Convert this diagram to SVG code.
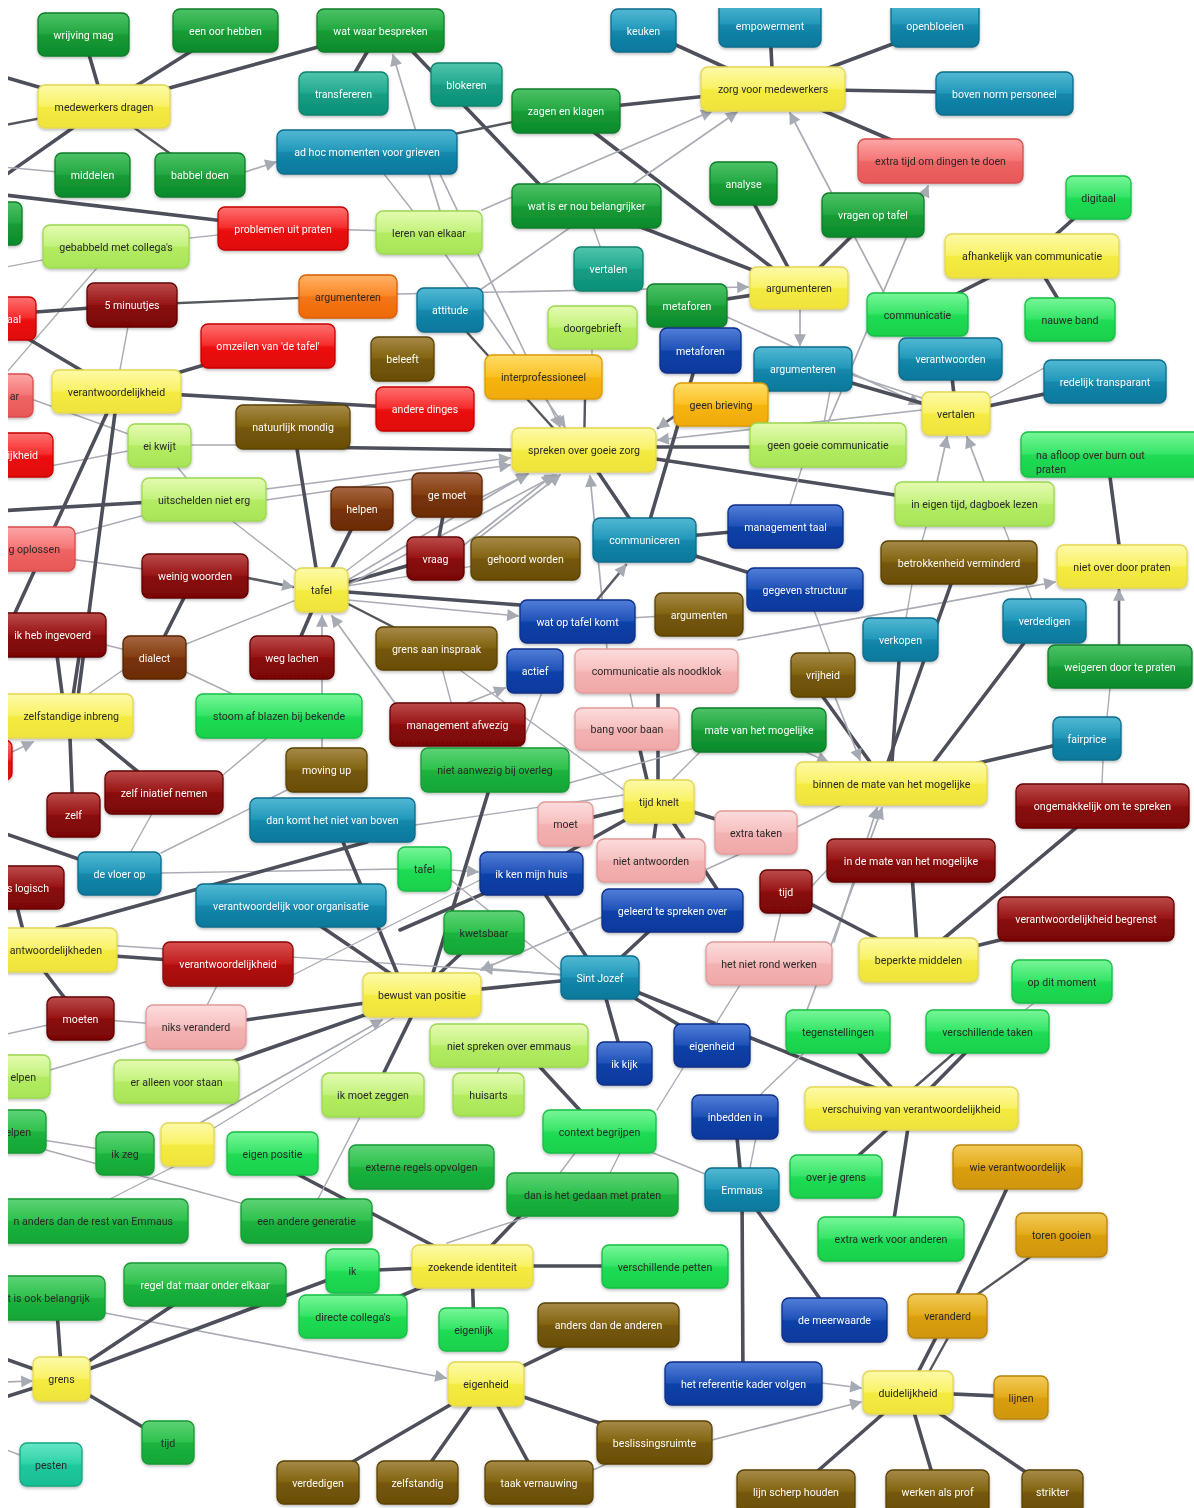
<svg xmlns="http://www.w3.org/2000/svg" width="1194" height="1508" viewBox="0 0 1194 1508">
<style>
text{font-family:Roboto,"Liberation Sans",sans-serif;font-size:10.6px;text-anchor:middle}
text.e{text-anchor:end}
text.w{fill:#fbfbfb}
text.k{fill:#2a2a2a}
.nd{filter:url(#sh)}
.nd rect{rx:7px;ry:7px;stroke-width:1.3}
.yel{fill:url(#Gyel);stroke:#e3d752}
.dg{fill:url(#Gdg);stroke:#0d7d28}
.bg{fill:url(#Gbg);stroke:#16bf44}
.mg{fill:url(#Gmg);stroke:#139a32}
.lime{fill:url(#Glime);stroke:#9cd850}
.tb{fill:url(#Gtb);stroke:#0a6c8c}
.tg{fill:url(#Gtg);stroke:#0c826c}
.db{fill:url(#Gdb);stroke:#0a2e88}
.red{fill:url(#Gred);stroke:#c80000}
.cr{fill:url(#Gcr);stroke:#8c0808}
.sal{fill:url(#Gsal);stroke:#d84c4c}
.dr{fill:url(#Gdr);stroke:#640404}
.or{fill:url(#Gor);stroke:#d85e08}
.og{fill:url(#Gog);stroke:#dc9c06}
.ol{fill:url(#Gol);stroke:#5a4204}
.br{fill:url(#Gbr);stroke:#5a2404}
.pk{fill:url(#Gpk);stroke:#e29a9a}
.gd{fill:url(#Ggd);stroke:#b8840a}
.cg{fill:url(#Gcg);stroke:#14a882}
#edges line{fill:none;stroke-linecap:round}
#edges .d{stroke:#4d4f5a;stroke-width:3.6}
#edges .m{stroke:#55575f;stroke-width:2.4}
#edges .g{stroke:#a9acb4;stroke-width:1.4}
#edges .a{stroke:#a9acb4;stroke-width:1.7;marker-end:url(#ah)}
#edges .am{stroke:#5a5c66;stroke-width:2.6;marker-end:url(#ah)}
</style>
<defs>
<filter id="sh" x="-10%" y="-20%" width="120%" height="150%"><feDropShadow dx="0" dy="1.5" stdDeviation="1.5" flood-color="#000" flood-opacity="0.28"/></filter>
<marker id="ah" viewBox="0 0 10 10" refX="9" refY="5" markerWidth="14" markerHeight="12" markerUnits="userSpaceOnUse" orient="auto"><path d="M0,0 L10,5 L0,10 z" fill="#a6aab3"/></marker>
<clipPath id="cl"><rect x="8" y="8" width="1186" height="1500"/></clipPath>
<linearGradient id="Gyel" x1="0" y1="0" x2="0" y2="1"><stop offset="0" stop-color="#fdfaa8"/><stop offset=".48" stop-color="#f9f266"/><stop offset=".52" stop-color="#f4eb40"/><stop offset="1" stop-color="#efe33c"/></linearGradient>
<linearGradient id="Gdg" x1="0" y1="0" x2="0" y2="1"><stop offset="0" stop-color="#4cc266"/><stop offset=".48" stop-color="#24a842"/><stop offset=".52" stop-color="#159b35"/><stop offset="1" stop-color="#0e8a2c"/></linearGradient>
<linearGradient id="Gbg" x1="0" y1="0" x2="0" y2="1"><stop offset="0" stop-color="#78f698"/><stop offset=".48" stop-color="#36e568"/><stop offset=".52" stop-color="#20dc54"/><stop offset="1" stop-color="#19d04b"/></linearGradient>
<linearGradient id="Gmg" x1="0" y1="0" x2="0" y2="1"><stop offset="0" stop-color="#5ed276"/><stop offset=".48" stop-color="#2ec24e"/><stop offset=".52" stop-color="#1bb33e"/><stop offset="1" stop-color="#15a636"/></linearGradient>
<linearGradient id="Glime" x1="0" y1="0" x2="0" y2="1"><stop offset="0" stop-color="#e4fbb0"/><stop offset=".48" stop-color="#c4f27e"/><stop offset=".52" stop-color="#b3ec62"/><stop offset="1" stop-color="#a8e458"/></linearGradient>
<linearGradient id="Gtb" x1="0" y1="0" x2="0" y2="1"><stop offset="0" stop-color="#52b8d4"/><stop offset=".48" stop-color="#2298ba"/><stop offset=".52" stop-color="#1387aa"/><stop offset="1" stop-color="#0c789c"/></linearGradient>
<linearGradient id="Gtg" x1="0" y1="0" x2="0" y2="1"><stop offset="0" stop-color="#50c4ac"/><stop offset=".48" stop-color="#22aa90"/><stop offset=".52" stop-color="#149d83"/><stop offset="1" stop-color="#0e9078"/></linearGradient>
<linearGradient id="Gdb" x1="0" y1="0" x2="0" y2="1"><stop offset="0" stop-color="#527ed8"/><stop offset=".48" stop-color="#2052b8"/><stop offset=".52" stop-color="#1142a8"/><stop offset="1" stop-color="#0c389c"/></linearGradient>
<linearGradient id="Gred" x1="0" y1="0" x2="0" y2="1"><stop offset="0" stop-color="#ff7070"/><stop offset=".48" stop-color="#f62c2c"/><stop offset=".52" stop-color="#ec1212"/><stop offset="1" stop-color="#e00a0a"/></linearGradient>
<linearGradient id="Gcr" x1="0" y1="0" x2="0" y2="1"><stop offset="0" stop-color="#d85050"/><stop offset=".48" stop-color="#c21e1e"/><stop offset=".52" stop-color="#b21111"/><stop offset="1" stop-color="#a00c0c"/></linearGradient>
<linearGradient id="Gsal" x1="0" y1="0" x2="0" y2="1"><stop offset="0" stop-color="#fca6a6"/><stop offset=".48" stop-color="#f57676"/><stop offset=".52" stop-color="#ee6464"/><stop offset="1" stop-color="#e85858"/></linearGradient>
<linearGradient id="Gdr" x1="0" y1="0" x2="0" y2="1"><stop offset="0" stop-color="#bc4a4a"/><stop offset=".48" stop-color="#981616"/><stop offset=".52" stop-color="#890909"/><stop offset="1" stop-color="#7a0606"/></linearGradient>
<linearGradient id="Gor" x1="0" y1="0" x2="0" y2="1"><stop offset="0" stop-color="#ffb468"/><stop offset=".48" stop-color="#fb8626"/><stop offset=".52" stop-color="#f47514"/><stop offset="1" stop-color="#ee6a0c"/></linearGradient>
<linearGradient id="Gog" x1="0" y1="0" x2="0" y2="1"><stop offset="0" stop-color="#ffdc68"/><stop offset=".48" stop-color="#fcc226"/><stop offset=".52" stop-color="#f6b510"/><stop offset="1" stop-color="#f0aa08"/></linearGradient>
<linearGradient id="Gol" x1="0" y1="0" x2="0" y2="1"><stop offset="0" stop-color="#a68a48"/><stop offset=".48" stop-color="#826410"/><stop offset=".52" stop-color="#755708"/><stop offset="1" stop-color="#6a4e06"/></linearGradient>
<linearGradient id="Gbr" x1="0" y1="0" x2="0" y2="1"><stop offset="0" stop-color="#a66642"/><stop offset=".48" stop-color="#843e10"/><stop offset=".52" stop-color="#773308"/><stop offset="1" stop-color="#6c2c06"/></linearGradient>
<linearGradient id="Gpk" x1="0" y1="0" x2="0" y2="1"><stop offset="0" stop-color="#fcdcdc"/><stop offset=".48" stop-color="#f7c0c0"/><stop offset=".52" stop-color="#f3b2b2"/><stop offset="1" stop-color="#f0a8a8"/></linearGradient>
<linearGradient id="Ggd" x1="0" y1="0" x2="0" y2="1"><stop offset="0" stop-color="#f2ca58"/><stop offset=".48" stop-color="#e4ac1c"/><stop offset=".52" stop-color="#da9f0c"/><stop offset="1" stop-color="#d09608"/></linearGradient>
<linearGradient id="Gcg" x1="0" y1="0" x2="0" y2="1"><stop offset="0" stop-color="#66e6c6"/><stop offset=".48" stop-color="#2ed2a8"/><stop offset=".52" stop-color="#1fc89c"/><stop offset="1" stop-color="#18be94"/></linearGradient>
</defs>
<rect x="0" y="0" width="1194" height="1508" fill="#fff"/>
<g clip-path="url(#cl)">
<g id="edges">
<line class="d" x1="83" y1="34" x2="104" y2="106"/>
<line class="d" x1="225" y1="30" x2="104" y2="106"/>
<line class="d" x1="380" y1="30" x2="104" y2="106"/>
<line class="d" x1="104" y1="106" x2="-20" y2="70"/>
<line class="m" x1="104" y1="106" x2="-20" y2="130"/>
<line class="d" x1="104" y1="106" x2="-20" y2="193"/>
<line class="m" x1="200" y1="175" x2="104" y2="106"/>
<line class="g" x1="92" y1="175" x2="-20" y2="165"/>
<line class="a" x1="245" y1="172" x2="276" y2="162"/>
<line class="d" x1="-20" y1="192" x2="283" y2="228"/>
<line class="g" x1="116" y1="246" x2="283" y2="228"/>
<line class="g" x1="116" y1="246" x2="-20" y2="272"/>
<line class="g" x1="116" y1="246" x2="-13" y2="395"/>
<line class="g" x1="283" y1="228" x2="429" y2="232"/>
<line class="g" x1="367" y1="152" x2="429" y2="232"/>
<line class="d" x1="132" y1="305" x2="-20" y2="316"/>
<line class="m" x1="132" y1="305" x2="348" y2="296"/>
<line class="g" x1="132" y1="305" x2="116" y2="391"/>
<line class="d" x1="10" y1="328" x2="116" y2="391"/>
<line class="d" x1="268" y1="346" x2="116" y2="391"/>
<line class="a" x1="397" y1="294" x2="748" y2="287"/>
<line class="d" x1="380" y1="30" x2="343" y2="93"/>
<line class="d" x1="392" y1="30" x2="560" y2="206"/>
<line class="a" x1="440" y1="211" x2="393" y2="55"/>
<line class="d" x1="566" y1="111" x2="773" y2="89"/>
<line class="m" x1="566" y1="111" x2="367" y2="152"/>
<line class="d" x1="566" y1="111" x2="799" y2="288"/>
<line class="d" x1="586" y1="206" x2="799" y2="288"/>
<line class="a" x1="482" y1="210" x2="712" y2="111"/>
<line class="a" x1="480" y1="290" x2="737" y2="112"/>
<line class="d" x1="643" y1="30" x2="773" y2="89"/>
<line class="d" x1="770" y1="28" x2="773" y2="89"/>
<line class="d" x1="935" y1="28" x2="773" y2="89"/>
<line class="d" x1="773" y1="89" x2="1004" y2="93"/>
<line class="d" x1="773" y1="89" x2="940" y2="161"/>
<line class="a" x1="884" y1="293" x2="790" y2="113"/>
<line class="a" x1="828" y1="423" x2="928" y2="186"/>
<line class="d" x1="873" y1="215" x2="799" y2="288"/>
<line class="d" x1="743" y1="183" x2="799" y2="288"/>
<line class="d" x1="687" y1="305" x2="799" y2="288"/>
<line class="a" x1="800" y1="309" x2="800" y2="345"/>
<line class="a" x1="727" y1="317" x2="920" y2="404"/>
<line class="d" x1="803" y1="369" x2="956" y2="413"/>
<line class="g" x1="852" y1="375" x2="922" y2="398"/>
<line class="d" x1="950" y1="359" x2="956" y2="413"/>
<line class="d" x1="1105" y1="381" x2="956" y2="413"/>
<line class="g" x1="1044" y1="368" x2="990" y2="398"/>
<line class="a" x1="922" y1="410" x2="658" y2="440"/>
<line class="am" x1="690" y1="405" x2="658" y2="428"/>
<line class="d" x1="700" y1="350" x2="644" y2="540"/>
<line class="g" x1="830" y1="391" x2="824" y2="423"/>
<line class="d" x1="1032" y1="256" x2="1098" y2="197"/>
<line class="d" x1="1032" y1="256" x2="917" y2="314"/>
<line class="d" x1="1032" y1="256" x2="1070" y2="319"/>
<line class="g" x1="586" y1="206" x2="608" y2="269"/>
<line class="g" x1="592" y1="327" x2="592" y2="360"/>
<line class="m" x1="585" y1="399" x2="584" y2="450"/>
<line class="a" x1="440" y1="174" x2="560" y2="427"/>
<line class="a" x1="445" y1="254" x2="565" y2="427"/>
<line class="m" x1="465" y1="330" x2="555" y2="430"/>
<line class="d" x1="300" y1="447" x2="512" y2="450"/>
<line class="d" x1="116" y1="391" x2="425" y2="409"/>
<line class="g" x1="159" y1="445" x2="293" y2="445"/>
<line class="g" x1="20" y1="395" x2="159" y2="445"/>
<line class="g" x1="40" y1="468" x2="159" y2="445"/>
<line class="g" x1="159" y1="445" x2="204" y2="499"/>
<line class="a" x1="266" y1="489" x2="510" y2="458"/>
<line class="a" x1="266" y1="500" x2="510" y2="465"/>
<line class="d" x1="-20" y1="512" x2="204" y2="499"/>
<line class="g" x1="60" y1="538" x2="204" y2="499"/>
<line class="g" x1="40" y1="555" x2="195" y2="576"/>
<line class="g" x1="204" y1="499" x2="321" y2="590"/>
<line class="d" x1="107" y1="413" x2="15" y2="613"/>
<line class="d" x1="115" y1="413" x2="75" y2="720"/>
<line class="d" x1="55" y1="640" x2="65" y2="716"/>
<line class="d" x1="80" y1="650" x2="70" y2="716"/>
<line class="g" x1="106" y1="645" x2="154" y2="657"/>
<line class="d" x1="154" y1="657" x2="195" y2="576"/>
<line class="g" x1="154" y1="657" x2="321" y2="590"/>
<line class="g" x1="123" y1="670" x2="80" y2="700"/>
<line class="g" x1="154" y1="657" x2="279" y2="716"/>
<line class="am" x1="248" y1="578" x2="293" y2="587"/>
<line class="d" x1="292" y1="657" x2="321" y2="590"/>
<line class="d" x1="297" y1="449" x2="316" y2="568"/>
<line class="d" x1="362" y1="508" x2="321" y2="590"/>
<line class="d" x1="321" y1="590" x2="435" y2="558"/>
<line class="d" x1="321" y1="590" x2="520" y2="605"/>
<line class="a" x1="348" y1="600" x2="518" y2="616"/>
<line class="m" x1="321" y1="590" x2="436" y2="649"/>
<line class="g" x1="321" y1="590" x2="525" y2="558"/>
<line class="g" x1="321" y1="590" x2="447" y2="495"/>
<line class="a" x1="348" y1="580" x2="527" y2="474"/>
<line class="a" x1="348" y1="585" x2="556" y2="475"/>
<line class="a" x1="322" y1="748" x2="322" y2="616"/>
<line class="a" x1="400" y1="710" x2="332" y2="616"/>
<line class="d" x1="435" y1="558" x2="447" y2="495"/>
<line class="a" x1="482" y1="497" x2="528" y2="474"/>
<line class="a" x1="480" y1="537" x2="560" y2="475"/>
<line class="a" x1="464" y1="545" x2="553" y2="475"/>
<line class="d" x1="644" y1="540" x2="598" y2="472"/>
<line class="a" x1="607" y1="649" x2="590" y2="476"/>
<line class="d" x1="644" y1="540" x2="785" y2="527"/>
<line class="d" x1="644" y1="540" x2="805" y2="590"/>
<line class="am" x1="597" y1="600" x2="626" y2="565"/>
<line class="g" x1="577" y1="621" x2="699" y2="614"/>
<line class="a" x1="467" y1="703" x2="505" y2="688"/>
<line class="g" x1="437" y1="649" x2="457" y2="725"/>
<line class="g" x1="460" y1="670" x2="624" y2="790"/>
<line class="g" x1="543" y1="690" x2="520" y2="748"/>
<line class="g" x1="630" y1="693" x2="633" y2="708"/>
<line class="d" x1="640" y1="750" x2="647" y2="780"/>
<line class="d" x1="658" y1="693" x2="658" y2="780"/>
<line class="g" x1="700" y1="752" x2="672" y2="780"/>
<line class="g" x1="569" y1="783" x2="759" y2="730"/>
<line class="a" x1="790" y1="745" x2="828" y2="762"/>
<line class="a" x1="738" y1="640" x2="1055" y2="582"/>
<line class="d" x1="1110" y1="477" x2="1119" y2="545"/>
<line class="am" x1="1119" y1="645" x2="1119" y2="590"/>
<line class="g" x1="926" y1="527" x2="922" y2="541"/>
<line class="g" x1="1004" y1="527" x2="1032" y2="600"/>
<line class="a" x1="937" y1="482" x2="947" y2="437"/>
<line class="a" x1="984" y1="482" x2="967" y2="437"/>
<line class="d" x1="656" y1="459" x2="895" y2="495"/>
<line class="d" x1="656" y1="447" x2="750" y2="447"/>
<line class="g" x1="802" y1="467" x2="790" y2="505"/>
<line class="g" x1="912" y1="584" x2="906" y2="618"/>
<line class="d" x1="951" y1="584" x2="888" y2="762"/>
<line class="d" x1="899" y1="661" x2="892" y2="762"/>
<line class="d" x1="1024" y1="643" x2="934" y2="762"/>
<line class="d" x1="823" y1="697" x2="870" y2="762"/>
<line class="g" x1="814" y1="610" x2="830" y2="653"/>
<line class="a" x1="835" y1="697" x2="860" y2="760"/>
<line class="g" x1="1107" y1="717" x2="1110" y2="688"/>
<line class="d" x1="1087" y1="738" x2="891" y2="783"/>
<line class="g" x1="1103" y1="760" x2="1102" y2="784"/>
<line class="g" x1="797" y1="827" x2="841" y2="805"/>
<line class="a" x1="834" y1="942" x2="877" y2="808"/>
<line class="a" x1="807" y1="1010" x2="882" y2="808"/>
<line class="d" x1="911" y1="860" x2="918" y2="960"/>
<line class="d" x1="786" y1="891" x2="918" y2="960"/>
<line class="g" x1="786" y1="891" x2="769" y2="963"/>
<line class="g" x1="811" y1="887" x2="827" y2="870"/>
<line class="d" x1="1102" y1="806" x2="918" y2="960"/>
<line class="d" x1="1086" y1="919" x2="918" y2="960"/>
<line class="g" x1="1034" y1="1003" x2="1025" y2="1010"/>
<line class="d" x1="911" y1="1108" x2="838" y2="1031"/>
<line class="d" x1="911" y1="1108" x2="987" y2="1031"/>
<line class="m" x1="900" y1="1100" x2="975" y2="1035"/>
<line class="d" x1="600" y1="977" x2="880" y2="1090"/>
<line class="g" x1="740" y1="985" x2="712" y2="1030"/>
<line class="g" x1="807" y1="1050" x2="760" y2="1095"/>
<line class="d" x1="911" y1="1108" x2="836" y2="1176"/>
<line class="d" x1="911" y1="1108" x2="891" y2="1239"/>
<line class="d" x1="659" y1="801" x2="565" y2="824"/>
<line class="d" x1="659" y1="801" x2="531" y2="873"/>
<line class="d" x1="659" y1="801" x2="756" y2="832"/>
<line class="d" x1="659" y1="801" x2="651" y2="860"/>
<line class="d" x1="659" y1="801" x2="717" y2="889"/>
<line class="g" x1="705" y1="870" x2="740" y2="854"/>
<line class="g" x1="415" y1="825" x2="624" y2="795"/>
<line class="g" x1="161" y1="873" x2="398" y2="869"/>
<line class="a" x1="451" y1="870" x2="478" y2="872"/>
<line class="d" x1="495" y1="770" x2="433" y2="973"/>
<line class="d" x1="484" y1="932" x2="440" y2="973"/>
<line class="d" x1="531" y1="873" x2="400" y2="930"/>
<line class="d" x1="531" y1="873" x2="600" y2="977"/>
<line class="g" x1="451" y1="880" x2="561" y2="970"/>
<line class="d" x1="672" y1="910" x2="600" y2="977"/>
<line class="a" x1="602" y1="917" x2="481" y2="970"/>
<line class="a" x1="561" y1="975" x2="482" y2="968"/>
<line class="d" x1="422" y1="995" x2="600" y2="977"/>
<line class="d" x1="600" y1="977" x2="624" y2="1063"/>
<line class="d" x1="600" y1="977" x2="712" y2="1045"/>
<line class="d" x1="540" y1="1067" x2="599" y2="1131"/>
<line class="g" x1="509" y1="1045" x2="488" y2="1094"/>
<line class="g" x1="683" y1="1068" x2="657" y2="1110"/>
<line class="d" x1="735" y1="1117" x2="742" y2="1189"/>
<line class="g" x1="760" y1="1117" x2="750" y2="1168"/>
<line class="g" x1="599" y1="1131" x2="742" y2="1189"/>
<line class="g" x1="575" y1="1153" x2="560" y2="1173"/>
<line class="g" x1="620" y1="1153" x2="610" y2="1173"/>
<line class="d" x1="472" y1="1266" x2="520" y2="1216"/>
<line class="g" x1="447" y1="1243" x2="527" y2="1217"/>
<line class="d" x1="742" y1="1189" x2="743" y2="1383"/>
<line class="d" x1="742" y1="1189" x2="835" y2="1320"/>
<line class="a" x1="822" y1="1383" x2="861" y2="1388"/>
<line class="a" x1="712" y1="1440" x2="861" y2="1402"/>
<line class="d" x1="908" y1="1392" x2="947" y2="1316"/>
<line class="m" x1="918" y1="1392" x2="960" y2="1316"/>
<line class="d" x1="947" y1="1316" x2="1017" y2="1167"/>
<line class="m" x1="947" y1="1316" x2="1061" y2="1235"/>
<line class="d" x1="908" y1="1392" x2="1021" y2="1397"/>
<line class="d" x1="908" y1="1392" x2="796" y2="1490"/>
<line class="d" x1="908" y1="1392" x2="937" y2="1490"/>
<line class="d" x1="908" y1="1392" x2="1052" y2="1490"/>
<line class="d" x1="486" y1="1384" x2="608" y2="1325"/>
<line class="d" x1="486" y1="1384" x2="655" y2="1442"/>
<line class="d" x1="486" y1="1384" x2="539" y2="1482"/>
<line class="d" x1="486" y1="1384" x2="417" y2="1482"/>
<line class="d" x1="486" y1="1384" x2="318" y2="1482"/>
<line class="a" x1="105" y1="1313" x2="446" y2="1378"/>
<line class="g" x1="655" y1="1442" x2="593" y2="1470"/>
<line class="d" x1="472" y1="1266" x2="665" y2="1266"/>
<line class="d" x1="472" y1="1266" x2="474" y2="1330"/>
<line class="d" x1="472" y1="1266" x2="352" y2="1271"/>
<line class="d" x1="472" y1="1266" x2="353" y2="1316"/>
<line class="d" x1="472" y1="1266" x2="280" y2="1165"/>
<line class="g" x1="360" y1="1117" x2="318" y2="1199"/>
<line class="d" x1="352" y1="1271" x2="62" y2="1379"/>
<line class="d" x1="205" y1="1284" x2="62" y2="1379"/>
<line class="d" x1="56" y1="1298" x2="62" y2="1379"/>
<line class="d" x1="62" y1="1379" x2="168" y2="1442"/>
<line class="d" x1="-20" y1="1350" x2="62" y2="1379"/>
<line class="d" x1="-20" y1="1405" x2="62" y2="1379"/>
<line class="a" x1="-20" y1="1383" x2="32" y2="1381"/>
<line class="g" x1="20" y1="1455" x2="-20" y2="1440"/>
<line class="g" x1="125" y1="1153" x2="-20" y2="1130"/>
<line class="g" x1="46" y1="1150" x2="306" y2="1221"/>
<line class="g" x1="110" y1="1199" x2="175" y2="1166"/>
<line class="a" x1="200" y1="1123" x2="382" y2="1020"/>
<line class="g" x1="214" y1="1128" x2="395" y2="1017"/>
<line class="g" x1="50" y1="1070" x2="196" y2="1027"/>
<line class="d" x1="196" y1="1027" x2="422" y2="995"/>
<line class="d" x1="176" y1="1081" x2="422" y2="995"/>
<line class="d" x1="373" y1="1095" x2="422" y2="995"/>
<line class="g" x1="80" y1="1018" x2="-20" y2="1040"/>
<line class="g" x1="80" y1="1018" x2="196" y2="1027"/>
<line class="d" x1="28" y1="950" x2="80" y2="1018"/>
<line class="d" x1="28" y1="950" x2="228" y2="964"/>
<line class="d" x1="12" y1="887" x2="28" y2="950"/>
<line class="g" x1="28" y1="940" x2="600" y2="977"/>
<line class="d" x1="367" y1="842" x2="57" y2="928"/>
<line class="d" x1="343" y1="842" x2="400" y2="980"/>
<line class="d" x1="291" y1="906" x2="422" y2="995"/>
<line class="g" x1="293" y1="975" x2="480" y2="880"/>
<line class="g" x1="228" y1="964" x2="196" y2="1027"/>
<line class="d" x1="119" y1="873" x2="-20" y2="825"/>
<line class="g" x1="164" y1="792" x2="119" y2="873"/>
<line class="g" x1="161" y1="853" x2="287" y2="790"/>
<line class="d" x1="137" y1="771" x2="97" y2="738"/>
<line class="g" x1="223" y1="775" x2="267" y2="738"/>
<line class="d" x1="73" y1="815" x2="70" y2="738"/>
<line class="a" x1="-5" y1="760" x2="33" y2="742"/>
</g>
<g id="nodes">
<g id="n-wrijving-mag" class="nd"><rect class="dg" x="38" y="13" width="91" height="43"/><text class="w" x="83.5" y="38.5">wrijving mag</text></g>
<g id="n-een-oor-hebben" class="nd"><rect class="dg" x="173" y="9" width="105" height="43"/><text class="w" x="225.5" y="34.5">een oor hebben</text></g>
<g id="n-wat-waar-bespreken" class="nd"><rect class="dg" x="317" y="9" width="127" height="43"/><text class="w" x="380.5" y="34.5">wat waar bespreken</text></g>
<g id="n-medewerkers-dragen" class="nd"><rect class="yel" x="38" y="85" width="132" height="43"/><text class="k" x="104" y="110.5">medewerkers dragen</text></g>
<g id="n-transfereren" class="nd"><rect class="tg" x="299" y="72" width="89" height="43"/><text class="w" x="343.5" y="97.5">transfereren</text></g>
<g id="n-ad-hoc" class="nd"><rect class="tb" x="277" y="130" width="180" height="44"/><text class="w" x="367" y="156">ad hoc momenten voor grieven</text></g>
<g id="n-middelen" class="nd"><rect class="dg" x="55" y="153" width="75" height="44"/><text class="w" x="92.5" y="179">middelen</text></g>
<g id="n-babbel-doen" class="nd"><rect class="dg" x="155" y="153" width="90" height="44"/><text class="w" x="200" y="179">babbel doen</text></g>
<g id="n-partial-green" class="nd"><rect class="dg" x="-40" y="202" width="62" height="43"/></g>
<g id="n-problemen-uit-praten" class="nd"><rect class="red" x="218" y="207" width="130" height="43"/><text class="w" x="283" y="232.5">problemen uit praten</text></g>
<g id="n-gebabbeld" class="nd"><rect class="lime" x="43" y="225" width="146" height="43"/><text class="k" x="116" y="250.5">gebabbeld met collega's</text></g>
<g id="n-leren-van-elkaar" class="nd"><rect class="lime" x="376" y="211" width="106" height="43"/><text class="k" x="429" y="236.5">leren van elkaar</text></g>
<g id="n-5-minuutjes" class="nd"><rect class="dr" x="87" y="283" width="90" height="44"/><text class="w" x="132" y="309">5 minuutjes</text></g>
<g id="n-aal" class="nd"><rect class="red" x="-60" y="297" width="96" height="43"/><text class="w e" x="21" y="322.5">aal</text></g>
<g id="n-argumenteren-oranje" class="nd"><rect class="or" x="299" y="275" width="98" height="43"/><text class="k" x="348" y="300.5">argumenteren</text></g>
<g id="n-omzeilen" class="nd"><rect class="red" x="201" y="324" width="134" height="44"/><text class="w" x="268" y="350">omzeilen van 'de tafel'</text></g>
<g id="n-beleeft" class="nd"><rect class="ol" x="371" y="337" width="63" height="44"/><text class="w" x="402.5" y="363">beleeft</text></g>
<g id="n-keuken" class="nd"><rect class="tb" x="611" y="9" width="65" height="43"/><text class="w" x="643.5" y="34.5">keuken</text></g>
<g id="n-empowerment" class="nd"><rect class="tb" x="719" y="2" width="102" height="45"/><text class="w" x="770" y="30">empowerment</text></g>
<g id="n-blokeren" class="nd"><rect class="tg" x="431" y="63" width="71" height="43"/><text class="w" x="466.5" y="88.5">blokeren</text></g>
<g id="n-zagen-en-klagen" class="nd"><rect class="dg" x="512" y="89" width="108" height="44"/><text class="w" x="566" y="115">zagen en klagen</text></g>
<g id="n-zorg-voor-medewerkers" class="nd"><rect class="yel" x="701" y="67" width="144" height="44"/><text class="k" x="773" y="93">zorg voor medewerkers</text></g>
<g id="n-wat-is-er-nou-belangrijker" class="nd"><rect class="dg" x="512" y="184" width="149" height="44"/><text class="w" x="586.5" y="210">wat is er nou belangrijker</text></g>
<g id="n-analyse" class="nd"><rect class="dg" x="710" y="162" width="67" height="43"/><text class="w" x="743.5" y="187.5">analyse</text></g>
<g id="n-vertalen-1" class="nd"><rect class="tg" x="574" y="247" width="69" height="44"/><text class="w" x="608.5" y="273">vertalen</text></g>
<g id="n-attitude" class="nd"><rect class="tb" x="417" y="288" width="66" height="44"/><text class="w" x="450" y="314">attitude</text></g>
<g id="n-metaforen-1" class="nd"><rect class="dg" x="647" y="284" width="80" height="43"/><text class="w" x="687" y="309.5">metaforen</text></g>
<g id="n-argumenteren-geel" class="nd"><rect class="yel" x="750" y="267" width="98" height="42"/><text class="k" x="799" y="292">argumenteren</text></g>
<g id="n-doorgebrieft" class="nd"><rect class="lime" x="548" y="306" width="89" height="43"/><text class="k" x="592.5" y="331.5">doorgebrieft</text></g>
<g id="n-metaforen-2" class="nd"><rect class="db" x="660" y="328" width="81" height="45"/><text class="w" x="700.5" y="354.5">metaforen</text></g>
<g id="n-argumenteren-blauw" class="nd"><rect class="tb" x="754" y="347" width="98" height="44"/><text class="w" x="803" y="373">argumenteren</text></g>
<g id="n-interprofessioneel" class="nd"><rect class="og" x="485" y="355" width="117" height="44"/><text class="k" x="543.5" y="381">interprofessioneel</text></g>
<g id="n-openbloeien" class="nd"><rect class="tb" x="891" y="2" width="88" height="45"/><text class="w" x="935" y="30">openbloeien</text></g>
<g id="n-boven-norm-personeel" class="nd"><rect class="tb" x="936" y="72" width="137" height="43"/><text class="w" x="1004.5" y="97.5">boven norm personeel</text></g>
<g id="n-extra-tijd" class="nd"><rect class="sal" x="858" y="139" width="165" height="44"/><text class="k" x="940.5" y="165">extra tijd om dingen te doen</text></g>
<g id="n-digitaal" class="nd"><rect class="bg" x="1066" y="176" width="65" height="43"/><text class="k" x="1098.5" y="201.5">digitaal</text></g>
<g id="n-vragen-op-tafel" class="nd"><rect class="dg" x="822" y="193" width="102" height="44"/><text class="w" x="873" y="219">vragen op tafel</text></g>
<g id="n-afhankelijk" class="nd"><rect class="yel" x="945" y="234" width="174" height="44"/><text class="k" x="1032" y="260">afhankelijk van communicatie</text></g>
<g id="n-communicatie" class="nd"><rect class="bg" x="867" y="293" width="101" height="43"/><text class="k" x="917.5" y="318.5">communicatie</text></g>
<g id="n-nauwe-band" class="nd"><rect class="bg" x="1025" y="298" width="90" height="43"/><text class="k" x="1070" y="323.5">nauwe band</text></g>
<g id="n-verantwoorden" class="nd"><rect class="tb" x="899" y="338" width="103" height="42"/><text class="w" x="950.5" y="363">verantwoorden</text></g>
<g id="n-redelijk-transparant" class="nd"><rect class="tb" x="1044" y="360" width="122" height="43"/><text class="w" x="1105" y="385.5">redelijk transparant</text></g>
<g id="n-ar" class="nd"><rect class="sal" x="-60" y="374" width="93" height="43"/><text class="k e" x="19" y="399.5">ar</text></g>
<g id="n-verantwoordelijkheid-geel" class="nd"><rect class="yel" x="52" y="370" width="129" height="43"/><text class="k" x="116.5" y="395.5">verantwoordelijkheid</text></g>
<g id="n-ijkheid" class="nd"><rect class="red" x="-60" y="433" width="113" height="44"/><text class="w e" x="38" y="459">ijkheid</text></g>
<g id="n-ei-kwijt" class="nd"><rect class="lime" x="128" y="424" width="63" height="43"/><text class="k" x="159.5" y="449.5">ei kwijt</text></g>
<g id="n-natuurlijk-mondig" class="nd"><rect class="ol" x="236" y="405" width="114" height="44"/><text class="w" x="293" y="431">natuurlijk mondig</text></g>
<g id="n-uitschelden" class="nd"><rect class="lime" x="142" y="478" width="124" height="43"/><text class="k" x="204" y="503.5">uitschelden niet erg</text></g>
<g id="n-helpen" class="nd"><rect class="br" x="331" y="487" width="62" height="43"/><text class="w" x="362" y="512.5">helpen</text></g>
<g id="n-g-oplossen" class="nd"><rect class="sal" x="-60" y="527" width="135" height="44"/><text class="k e" x="60" y="553">g oplossen</text></g>
<g id="n-weinig-woorden" class="nd"><rect class="dr" x="142" y="554" width="106" height="44"/><text class="w" x="195" y="580">weinig woorden</text></g>
<g id="n-tafel-1" class="nd"><rect class="yel" x="295" y="568" width="53" height="44"/><text class="k" x="321.5" y="594">tafel</text></g>
<g id="n-ik-heb-ingevoerd" class="nd"><rect class="dr" x="-20" y="613" width="126" height="44"/><text class="w e" x="91" y="639">ik heb ingevoerd</text></g>
<g id="n-dialect" class="nd"><rect class="br" x="123" y="636" width="63" height="43"/><text class="w" x="154.5" y="661.5">dialect</text></g>
<g id="n-weg-lachen" class="nd"><rect class="dr" x="250" y="636" width="84" height="43"/><text class="w" x="292" y="661.5">weg lachen</text></g>
<g id="n-zelfstandige-inbreng" class="nd"><rect class="yel" x="-20" y="694" width="153" height="44"/><text class="k e" x="119" y="720">zelfstandige inbreng</text></g>
<g id="n-stoom" class="nd"><rect class="bg" x="196" y="694" width="166" height="44"/><text class="k" x="279" y="720">stoom af blazen bij bekende</text></g>
<g id="n-grens-aan-inspraak" class="nd"><rect class="ol" x="376" y="627" width="121" height="43"/><text class="w" x="436.5" y="652.5">grens aan inspraak</text></g>
<g id="n-andere-dinges" class="nd"><rect class="red" x="376" y="387" width="98" height="44"/><text class="w" x="425" y="413">andere dinges</text></g>
<g id="n-spreken" class="nd"><rect class="yel" x="512" y="428" width="144" height="44"/><text class="k" x="584" y="454">spreken over goeie zorg</text></g>
<g id="n-geen-brieving" class="nd"><rect class="og" x="674" y="383" width="94" height="43"/><text class="k" x="721" y="408.5">geen brieving</text></g>
<g id="n-geen-goeie-communicatie" class="nd"><rect class="lime" x="750" y="423" width="156" height="44"/><text class="k" x="828" y="449">geen goeie communicatie</text></g>
<g id="n-ge-moet" class="nd"><rect class="br" x="412" y="473" width="70" height="44"/><text class="w" x="447" y="499">ge moet</text></g>
<g id="n-vraag" class="nd"><rect class="dr" x="407" y="537" width="57" height="43"/><text class="w" x="435.5" y="562.5">vraag</text></g>
<g id="n-gehoord-worden" class="nd"><rect class="ol" x="471" y="537" width="109" height="43"/><text class="w" x="525.5" y="562.5">gehoord worden</text></g>
<g id="n-communiceren" class="nd"><rect class="tb" x="593" y="518" width="103" height="44"/><text class="w" x="644.5" y="544">communiceren</text></g>
<g id="n-management-taal" class="nd"><rect class="db" x="728" y="505" width="115" height="43"/><text class="w" x="785.5" y="530.5">management taal</text></g>
<g id="n-gegeven-structuur" class="nd"><rect class="db" x="747" y="568" width="116" height="43"/><text class="w" x="805" y="593.5">gegeven structuur</text></g>
<g id="n-wat-op-tafel-komt" class="nd"><rect class="db" x="520" y="600" width="115" height="43"/><text class="w" x="577.5" y="625.5">wat op tafel komt</text></g>
<g id="n-argumenten" class="nd"><rect class="ol" x="655" y="593" width="88" height="43"/><text class="w" x="699" y="618.5">argumenten</text></g>
<g id="n-actief" class="nd"><rect class="db" x="507" y="649" width="56" height="44"/><text class="w" x="535" y="675">actief</text></g>
<g id="n-noodklok" class="nd"><rect class="pk" x="575" y="649" width="163" height="44"/><text class="k" x="656.5" y="675">communicatie als noodklok</text></g>
<g id="n-management-afwezig" class="nd"><rect class="dr" x="390" y="703" width="135" height="43"/><text class="w" x="457.5" y="728.5">management afwezig</text></g>
<g id="n-bang-voor-baan" class="nd"><rect class="pk" x="575" y="708" width="104" height="42"/><text class="k" x="627" y="733">bang voor baan</text></g>
<g id="n-mate-van-het-mogelijke" class="nd"><rect class="dg" x="692" y="708" width="134" height="44"/><text class="w" x="759" y="734">mate van het mogelijke</text></g>
<g id="n-vertalen-2" class="nd"><rect class="yel" x="922" y="392" width="68" height="43"/><text class="k" x="956" y="417.5">vertalen</text></g>
<g id="n-na-afloop" class="nd"><rect class="bg" x="1021" y="432" width="180" height="45"/><text class="k" style="text-anchor:start" x="1036" y="459">na afloop over burn out</text><text class="k" style="text-anchor:start" x="1036" y="473">praten</text></g>
<g id="n-in-eigen-tijd" class="nd"><rect class="lime" x="895" y="482" width="159" height="44"/><text class="k" x="974.5" y="508">in eigen tijd, dagboek lezen</text></g>
<g id="n-betrokkenheid" class="nd"><rect class="ol" x="881" y="541" width="156" height="43"/><text class="w" x="959" y="566.5">betrokkenheid verminderd</text></g>
<g id="n-niet-over-door-praten" class="nd"><rect class="yel" x="1057" y="545" width="130" height="43"/><text class="k" x="1122" y="570.5">niet over door praten</text></g>
<g id="n-verkopen" class="nd"><rect class="tb" x="863" y="618" width="75" height="43"/><text class="w" x="900.5" y="643.5">verkopen</text></g>
<g id="n-verdedigen-1" class="nd"><rect class="tb" x="1003" y="599" width="83" height="44"/><text class="w" x="1044.5" y="625">verdedigen</text></g>
<g id="n-weigeren" class="nd"><rect class="dg" x="1048" y="645" width="144" height="43"/><text class="w" x="1120" y="670.5">weigeren door te praten</text></g>
<g id="n-vrijheid" class="nd"><rect class="ol" x="791" y="653" width="64" height="44"/><text class="w" x="823" y="679">vrijheid</text></g>
<g id="n-fairprice" class="nd"><rect class="tb" x="1053" y="717" width="68" height="43"/><text class="w" x="1087" y="742.5">fairprice</text></g>
<g id="n-partial-red" class="nd"><rect class="red" x="-50" y="740" width="62" height="40"/></g>
<g id="n-zelf" class="nd"><rect class="dr" x="47" y="793" width="53" height="44"/><text class="w" x="73.5" y="819">zelf</text></g>
<g id="n-zelf-iniatief" class="nd"><rect class="dr" x="105" y="771" width="118" height="43"/><text class="w" x="164" y="796.5">zelf iniatief nemen</text></g>
<g id="n-moving-up" class="nd"><rect class="ol" x="286" y="748" width="81" height="44"/><text class="w" x="326.5" y="774">moving up</text></g>
<g id="n-dan-komt" class="nd"><rect class="tb" x="250" y="798" width="165" height="44"/><text class="w" x="332.5" y="824">dan komt het niet van boven</text></g>
<g id="n-de-vloer-op" class="nd"><rect class="tb" x="78" y="852" width="83" height="43"/><text class="w" x="119.5" y="877.5">de vloer op</text></g>
<g id="n-s-logisch" class="nd"><rect class="dr" x="-50" y="866" width="114" height="43"/><text class="w e" x="49" y="891.5">s logisch</text></g>
<g id="n-verantwoordelijk-org" class="nd"><rect class="tb" x="196" y="884" width="190" height="43"/><text class="w" x="291" y="909.5">verantwoordelijk voor organisatie</text></g>
<g id="n-tafel-2" class="nd"><rect class="bg" x="398" y="847" width="53" height="44"/><text class="k" x="424.5" y="873">tafel</text></g>
<g id="n-antwoordelijkheden" class="nd"><rect class="yel" x="-80" y="928" width="197" height="44"/><text class="k e" x="102" y="954">antwoordelijkheden</text></g>
<g id="n-verantwoordelijkheid-rood" class="nd"><rect class="cr" x="163" y="942" width="130" height="44"/><text class="w" x="228" y="968">verantwoordelijkheid</text></g>
<g id="n-moeten" class="nd"><rect class="dr" x="47" y="997" width="67" height="43"/><text class="w" x="80.5" y="1022.5">moeten</text></g>
<g id="n-niks-veranderd" class="nd"><rect class="pk" x="146" y="1005" width="100" height="44"/><text class="k" x="196" y="1031">niks veranderd</text></g>
<g id="n-bewust-van-positie" class="nd"><rect class="yel" x="363" y="973" width="118" height="44"/><text class="k" x="422" y="999">bewust van positie</text></g>
<g id="n-elpen-1" class="nd"><rect class="lime" x="-50" y="1055" width="100" height="43"/><text class="k e" x="36" y="1080.5">elpen</text></g>
<g id="n-er-alleen" class="nd"><rect class="lime" x="114" y="1060" width="125" height="43"/><text class="k" x="176.5" y="1085.5">er alleen voor staan</text></g>
<g id="n-ik-moet-zeggen" class="nd"><rect class="lime" x="322" y="1073" width="102" height="44"/><text class="k" x="373" y="1099">ik moet zeggen</text></g>
<g id="n-niet-aanwezig" class="nd"><rect class="mg" x="421" y="748" width="148" height="44"/><text class="k" x="495" y="774">niet aanwezig bij overleg</text></g>
<g id="n-tijd-knelt" class="nd"><rect class="yel" x="624" y="780" width="70" height="43"/><text class="k" x="659" y="805.5">tijd knelt</text></g>
<g id="n-moet" class="nd"><rect class="pk" x="538" y="802" width="55" height="44"/><text class="k" x="565.5" y="828">moet</text></g>
<g id="n-extra-taken" class="nd"><rect class="pk" x="715" y="811" width="82" height="43"/><text class="k" x="756" y="836.5">extra taken</text></g>
<g id="n-niet-antwoorden" class="nd"><rect class="pk" x="597" y="839" width="108" height="43"/><text class="k" x="651" y="864.5">niet antwoorden</text></g>
<g id="n-ik-ken-mijn-huis" class="nd"><rect class="db" x="480" y="852" width="103" height="43"/><text class="w" x="531.5" y="877.5">ik ken mijn huis</text></g>
<g id="n-geleerd" class="nd"><rect class="db" x="602" y="889" width="141" height="43"/><text class="w" x="672.5" y="914.5">geleerd te spreken over</text></g>
<g id="n-tijd-rood" class="nd"><rect class="dr" x="760" y="870" width="52" height="43"/><text class="w" x="786" y="895.5">tijd</text></g>
<g id="n-kwetsbaar" class="nd"><rect class="mg" x="444" y="911" width="80" height="43"/><text class="k" x="484" y="936.5">kwetsbaar</text></g>
<g id="n-sint-jozef" class="nd"><rect class="tb" x="561" y="956" width="78" height="43"/><text class="w" x="600" y="981.5">Sint Jozef</text></g>
<g id="n-het-niet-rond-werken" class="nd"><rect class="pk" x="706" y="942" width="126" height="43"/><text class="k" x="769" y="967.5">het niet rond werken</text></g>
<g id="n-niet-spreken-emmaus" class="nd"><rect class="lime" x="430" y="1024" width="158" height="43"/><text class="k" x="509" y="1049.5">niet spreken over emmaus</text></g>
<g id="n-ik-kijk" class="nd"><rect class="db" x="597" y="1042" width="55" height="43"/><text class="w" x="624.5" y="1067.5">ik kijk</text></g>
<g id="n-eigenheid-blauw" class="nd"><rect class="db" x="674" y="1024" width="76" height="43"/><text class="w" x="712" y="1049.5">eigenheid</text></g>
<g id="n-huisarts" class="nd"><rect class="lime" x="453" y="1073" width="71" height="43"/><text class="k" x="488.5" y="1098.5">huisarts</text></g>
<g id="n-inbedden-in" class="nd"><rect class="db" x="692" y="1095" width="86" height="44"/><text class="w" x="735" y="1121">inbedden in</text></g>
<g id="n-binnen-de-mate" class="nd"><rect class="yel" x="796" y="762" width="191" height="43"/><text class="k" x="891.5" y="787.5">binnen de mate van het mogelijke</text></g>
<g id="n-ongemakkelijk" class="nd"><rect class="dr" x="1016" y="784" width="173" height="44"/><text class="w" x="1102.5" y="810">ongemakkelijk om te spreken</text></g>
<g id="n-in-de-mate" class="nd"><rect class="dr" x="827" y="839" width="168" height="43"/><text class="w" x="911" y="864.5">in de mate van het mogelijke</text></g>
<g id="n-begrenst" class="nd"><rect class="dr" x="998" y="897" width="176" height="44"/><text class="w" x="1086" y="923">verantwoordelijkheid begrenst</text></g>
<g id="n-beperkte-middelen" class="nd"><rect class="yel" x="859" y="938" width="119" height="44"/><text class="k" x="918.5" y="964">beperkte middelen</text></g>
<g id="n-op-dit-moment" class="nd"><rect class="bg" x="1012" y="960" width="100" height="43"/><text class="k" x="1062" y="985.5">op dit moment</text></g>
<g id="n-tegenstellingen" class="nd"><rect class="bg" x="786" y="1010" width="104" height="43"/><text class="k" x="838" y="1035.5">tegenstellingen</text></g>
<g id="n-verschillende-taken" class="nd"><rect class="bg" x="926" y="1010" width="123" height="43"/><text class="k" x="987.5" y="1035.5">verschillende taken</text></g>
<g id="n-verschuiving" class="nd"><rect class="yel" x="805" y="1087" width="213" height="43"/><text class="k" x="911.5" y="1112.5">verschuiving van verantwoordelijkheid</text></g>
<g id="n-elpen-2" class="nd"><rect class="mg" x="-50" y="1110" width="96" height="43"/><text class="k e" x="31" y="1135.5">elpen</text></g>
<g id="n-ik-zeg" class="nd"><rect class="mg" x="96" y="1132" width="58" height="43"/><text class="k" x="125" y="1157.5">ik zeg</text></g>
<g id="n-leeg" class="nd"><rect class="yel" x="161" y="1123" width="53" height="43"/></g>
<g id="n-eigen-positie" class="nd"><rect class="bg" x="227" y="1132" width="91" height="43"/><text class="k" x="272.5" y="1157.5">eigen positie</text></g>
<g id="n-externe-regels" class="nd"><rect class="mg" x="349" y="1145" width="145" height="44"/><text class="k" x="421.5" y="1171">externe regels opvolgen</text></g>
<g id="n-anders-dan-de-rest" class="nd"><rect class="mg" x="-20" y="1199" width="208" height="44"/><text class="k e" x="173" y="1225">n anders dan de rest van Emmaus</text></g>
<g id="n-een-andere-generatie" class="nd"><rect class="mg" x="241" y="1199" width="131" height="44"/><text class="k" x="306.5" y="1225">een andere generatie</text></g>
<g id="n-ik" class="nd"><rect class="bg" x="326" y="1249" width="53" height="44"/><text class="k" x="352.5" y="1275">ik</text></g>
<g id="n-ook-belangrijk" class="nd"><rect class="mg" x="-30" y="1276" width="135" height="44"/><text class="k e" x="90" y="1302">t is ook belangrijk</text></g>
<g id="n-regel-dat" class="nd"><rect class="mg" x="124" y="1263" width="162" height="43"/><text class="w" x="205" y="1288.5">regel dat maar onder elkaar</text></g>
<g id="n-directe-collegas" class="nd"><rect class="bg" x="299" y="1295" width="108" height="43"/><text class="k" x="353" y="1320.5">directe collega's</text></g>
<g id="n-grens" class="nd"><rect class="yel" x="33" y="1357" width="57" height="44"/><text class="k" x="61.5" y="1383">grens</text></g>
<g id="n-tijd-groen" class="nd"><rect class="mg" x="142" y="1421" width="52" height="43"/><text class="k" x="168" y="1446.5">tijd</text></g>
<g id="n-pesten" class="nd"><rect class="cg" x="20" y="1443" width="62" height="43"/><text class="k" x="51" y="1468.5">pesten</text></g>
<g id="n-verdedigen-2" class="nd"><rect class="ol" x="277" y="1461" width="82" height="43"/><text class="w" x="318" y="1486.5">verdedigen</text></g>
<g id="n-context-begrijpen" class="nd"><rect class="bg" x="543" y="1110" width="113" height="43"/><text class="k" x="599.5" y="1135.5">context begrijpen</text></g>
<g id="n-dan-is-het-gedaan" class="nd"><rect class="mg" x="507" y="1173" width="171" height="43"/><text class="k" x="592.5" y="1198.5">dan is het gedaan met praten</text></g>
<g id="n-emmaus" class="nd"><rect class="tb" x="705" y="1168" width="74" height="43"/><text class="w" x="742" y="1193.5">Emmaus</text></g>
<g id="n-zoekende-identiteit" class="nd"><rect class="yel" x="412" y="1245" width="121" height="43"/><text class="k" x="472.5" y="1270.5">zoekende identiteit</text></g>
<g id="n-verschillende-petten" class="nd"><rect class="bg" x="602" y="1245" width="126" height="43"/><text class="k" x="665" y="1270.5">verschillende petten</text></g>
<g id="n-eigenlijk" class="nd"><rect class="bg" x="439" y="1308" width="69" height="43"/><text class="k" x="473.5" y="1333.5">eigenlijk</text></g>
<g id="n-anders-dan-de-anderen" class="nd"><rect class="ol" x="538" y="1303" width="141" height="44"/><text class="w" x="608.5" y="1329">anders dan de anderen</text></g>
<g id="n-eigenheid-geel" class="nd"><rect class="yel" x="448" y="1362" width="76" height="44"/><text class="k" x="486" y="1388">eigenheid</text></g>
<g id="n-referentie-kader" class="nd"><rect class="db" x="665" y="1362" width="157" height="43"/><text class="w" x="743.5" y="1387.5">het referentie kader volgen</text></g>
<g id="n-beslissingsruimte" class="nd"><rect class="ol" x="597" y="1421" width="115" height="43"/><text class="w" x="654.5" y="1446.5">beslissingsruimte</text></g>
<g id="n-zelfstandig" class="nd"><rect class="ol" x="377" y="1461" width="81" height="43"/><text class="w" x="417.5" y="1486.5">zelfstandig</text></g>
<g id="n-taak-vernauwing" class="nd"><rect class="ol" x="485" y="1461" width="108" height="43"/><text class="w" x="539" y="1486.5">taak vernauwing</text></g>
<g id="n-lijn-scherp-houden" class="nd"><rect class="ol" x="737" y="1470" width="118" height="44"/><text class="w" x="796" y="1496">lijn scherp houden</text></g>
<g id="n-over-je-grens" class="nd"><rect class="bg" x="790" y="1155" width="92" height="43"/><text class="k" x="836" y="1180.5">over je grens</text></g>
<g id="n-wie-verantwoordelijk" class="nd"><rect class="gd" x="953" y="1145" width="129" height="44"/><text class="k" x="1017.5" y="1171">wie verantwoordelijk</text></g>
<g id="n-toren-gooien" class="nd"><rect class="gd" x="1016" y="1213" width="91" height="44"/><text class="k" x="1061.5" y="1239">toren gooien</text></g>
<g id="n-extra-werk" class="nd"><rect class="bg" x="818" y="1217" width="146" height="44"/><text class="k" x="891" y="1243">extra werk voor anderen</text></g>
<g id="n-de-meerwaarde" class="nd"><rect class="db" x="782" y="1298" width="105" height="44"/><text class="w" x="834.5" y="1324">de meerwaarde</text></g>
<g id="n-veranderd" class="nd"><rect class="gd" x="908" y="1294" width="79" height="44"/><text class="k" x="947.5" y="1320">veranderd</text></g>
<g id="n-duidelijkheid" class="nd"><rect class="yel" x="863" y="1371" width="90" height="43"/><text class="k" x="908" y="1396.5">duidelijkheid</text></g>
<g id="n-lijnen" class="nd"><rect class="gd" x="994" y="1376" width="54" height="43"/><text class="k" x="1021" y="1401.5">lijnen</text></g>
<g id="n-werken-als-prof" class="nd"><rect class="ol" x="886" y="1470" width="103" height="44"/><text class="w" x="937.5" y="1496">werken als prof</text></g>
<g id="n-strikter" class="nd"><rect class="ol" x="1022" y="1470" width="61" height="44"/><text class="w" x="1052.5" y="1496">strikter</text></g>
</g>
</g>
</svg>
